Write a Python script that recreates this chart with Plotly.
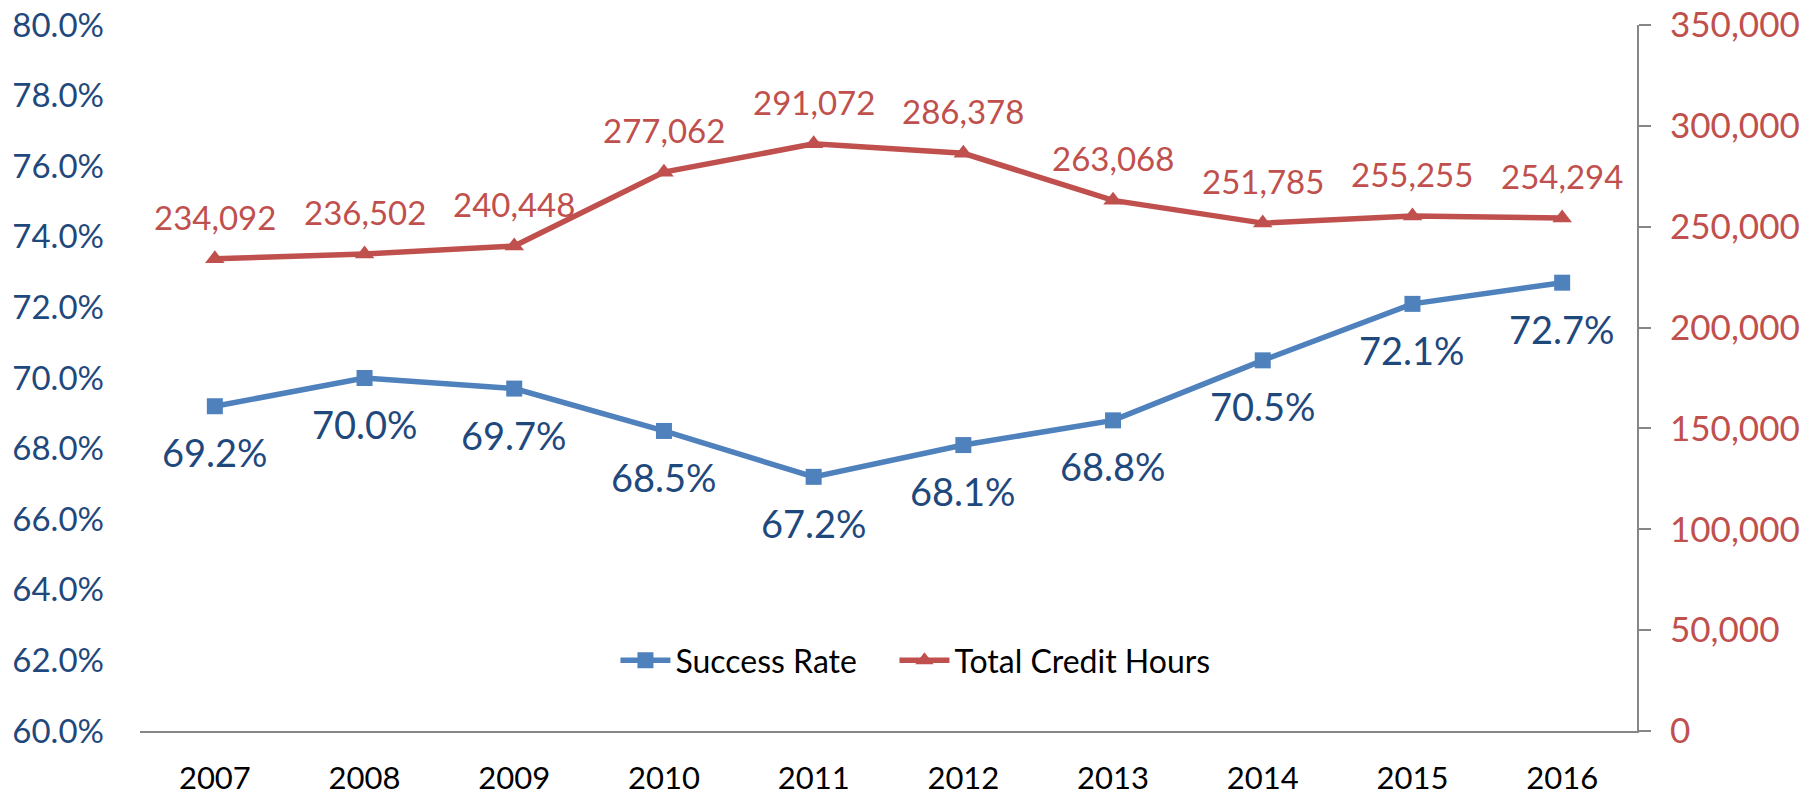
import plotly.graph_objects as go

years = ["2007", "2008", "2009", "2010", "2011", "2012", "2013", "2014", "2015", "2016"]
success_rate = [69.2, 70.0, 69.7, 68.5, 67.2, 68.1, 68.8, 70.5, 72.1, 72.7]
credit_hours = [234092, 236502, 240448, 277062, 291072, 286378, 263068, 251785, 255255, 254294]

BLUE = "#4F81BD"
RED = "#C0504D"
NAVY = "#1F497D"
GRAY = "#868686"
FONT = "Lato"

fig = go.Figure()
fig.add_trace(go.Scatter(
    x=years, y=[v / 100 for v in success_rate], name="Success Rate",
    mode="lines+markers", line=dict(color=BLUE, width=5.5),
    marker=dict(symbol="square", size=16, color=BLUE), yaxis="y", cliponaxis=False,
    legendwidth=214))
fig.add_trace(go.Scatter(
    x=years, y=credit_hours, name="Total Credit Hours",
    mode="lines+markers", line=dict(color=RED, width=5.5),
    marker=dict(symbol="triangle-up", size=17, color=RED), yaxis="y2", cliponaxis=False))

annotations = []
for i, v in enumerate(success_rate):
    annotations.append(dict(x=i, y=v / 100, xref="x", yref="y", text=f"{v:.1f}%",
                            showarrow=False, yshift=-46,
                            font=dict(family=FONT, size=38, color=NAVY)))
for i, v in enumerate(credit_hours):
    annotations.append(dict(x=i, y=v, xref="x", yref="y2", text=f"{v:,}",
                            showarrow=False, yshift=42,
                            font=dict(family=FONT, size=33, color=RED)))

fig.update_layout(
    width=1800, height=796,
    margin=dict(l=140, r=163, t=25, b=65),
    paper_bgcolor="white", plot_bgcolor="white",
    font=dict(family=FONT, color="black"),
    showlegend=True,
    legend=dict(orientation="h", x=0.518, xanchor="center", y=0.1, yanchor="middle",
                font=dict(family=FONT, size=32, color="black"), bgcolor="rgba(0,0,0,0)",
                itemwidth=50),
    xaxis=dict(type="category", range=[-0.5, 9.5], showline=True, linecolor=GRAY, linewidth=2,
               showgrid=False, ticks="", tickfont=dict(family=FONT, size=31, color="black"),
               ticklabelstandoff=19, zeroline=False, automargin=False),
    yaxis=dict(range=[0.6, 0.8], dtick=0.02, tickformat=".1%", showgrid=False, showline=False,
               zeroline=False, ticks="", tickfont=dict(family=FONT, size=33, color=NAVY),
               ticklabelstandoff=35, automargin=False),
    yaxis2=dict(range=[0, 350000], dtick=50000, tickformat=",", overlaying="y", side="right",
                showgrid=False, showline=True, linecolor=GRAY, linewidth=2, zeroline=False,
                ticks="outside", ticklen=12, tickwidth=2, tickcolor=GRAY,
                tickfont=dict(family=FONT, size=35, color=RED), ticklabelstandoff=12,
                automargin=False),
    annotations=annotations,
)

fig.write_html("out.html", config={"displayModeBar": False},
               post_script="document.body.style.margin='0px';")
